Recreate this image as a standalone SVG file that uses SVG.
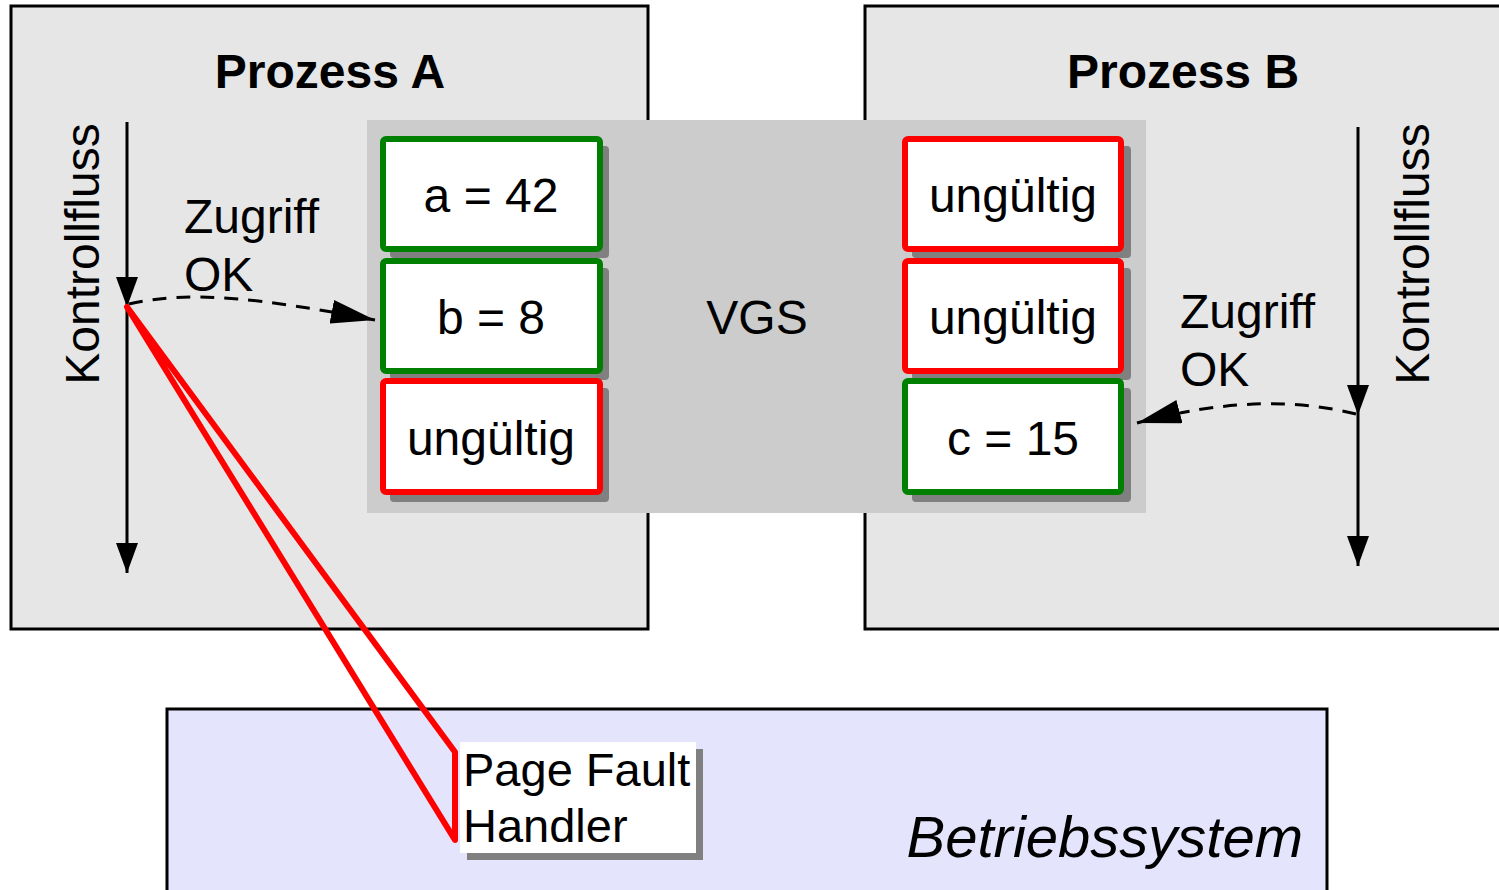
<svg xmlns="http://www.w3.org/2000/svg" width="1499" height="890" viewBox="0 0 1499 890">
<style>
.proc{fill:#e6e6e6;stroke:#000;stroke-width:3}
.vgs{fill:#cccccc}
.shadow{fill:#808080}
.cell{fill:#fff;stroke-width:6}
.ok{stroke:#008000}
.bad{stroke:#ff0000}
.t{font-family:"Liberation Sans",Arial,sans-serif;fill:#000}
.title{font-size:48px;font-weight:bold;text-anchor:middle}
.val{font-size:48px;text-anchor:middle}
.lbl{font-size:48px}
.flow{stroke:#000;stroke-width:3;fill:none}
.dash{stroke:#000;stroke-width:3;fill:none;stroke-dasharray:14 10}
</style>
<defs>
<marker id="ah" viewBox="0 0 30 22" refX="30" refY="11" markerWidth="30" markerHeight="22" markerUnits="userSpaceOnUse" orient="auto">
<path d="M0,0 L30,11 L0,22 Z" fill="#000"/>
</marker>
<marker id="ahb" viewBox="0 0 44 24" refX="44" refY="12" markerWidth="44" markerHeight="24" markerUnits="userSpaceOnUse" orient="auto">
<path d="M0,0 L44,12 L0,24 Z" fill="#000"/>
</marker>
</defs>
<rect width="1499" height="890" fill="#fff"/>

<g id="os">
<rect x="167" y="709" width="1160" height="190" fill="#e4e4fc" stroke="#000" stroke-width="3"/>
<text class="t" x="1303" y="857" font-size="58" font-style="italic" text-anchor="end">Betriebssystem</text>
</g>

<g id="prozessA">
<rect class="proc" x="11" y="6" width="637" height="623"/>
<text class="t title" x="330" y="88">Prozess A</text>
<text class="t lbl" transform="translate(99,254) rotate(-90)" text-anchor="middle">Kontrollfluss</text>
<text class="t lbl" x="184" y="233">Zugriff</text>
<text class="t lbl" x="184" y="291">OK</text>
</g>

<g id="prozessB">
<rect class="proc" x="865" y="6" width="640" height="623"/>
<text class="t title" x="1183" y="88">Prozess B</text>
<text class="t lbl" transform="translate(1429,254) rotate(-90)" text-anchor="middle">Kontrollfluss</text>
<text class="t lbl" x="1180" y="328">Zugriff</text>
<text class="t lbl" x="1180" y="386">OK</text>
</g>

<g id="vgs">
<rect class="vgs" x="367" y="120" width="779" height="393"/>
<text class="t val" x="757" y="334">VGS</text>
</g>

<g id="cellA1">
<rect class="shadow" x="390" y="146" width="219" height="112" rx="4"/>
<rect class="cell ok" x="383" y="139" width="217" height="110" rx="3"/>
<text class="t val" x="491" y="212">a = 42</text>
</g>
<g id="cellA2">
<rect class="shadow" x="390" y="268" width="219" height="112" rx="4"/>
<rect class="cell ok" x="383" y="261" width="217" height="110" rx="3"/>
<text class="t val" x="491" y="334">b = 8</text>
</g>
<g id="cellA3">
<rect class="shadow" x="390" y="388" width="219" height="114" rx="4"/>
<rect class="cell bad" x="383" y="381" width="217" height="111" rx="3"/>
<text class="t val" x="491" y="455">ungültig</text>
</g>

<g id="cellB1">
<rect class="shadow" x="912" y="146" width="219" height="112" rx="4"/>
<rect class="cell bad" x="905" y="139" width="216" height="110" rx="3"/>
<text class="t val" x="1013" y="212">ungültig</text>
</g>
<g id="cellB2">
<rect class="shadow" x="912" y="268" width="219" height="112" rx="4"/>
<rect class="cell bad" x="905" y="261" width="216" height="110" rx="3"/>
<text class="t val" x="1013" y="334">ungültig</text>
</g>
<g id="cellB3">
<rect class="shadow" x="912" y="388" width="219" height="114" rx="4"/>
<rect class="cell ok" x="905" y="381" width="216" height="111" rx="3"/>
<text class="t val" x="1013" y="455">c = 15</text>
</g>

<g id="handler">
<rect class="shadow" x="467" y="749" width="236" height="111"/>
<rect x="460" y="742" width="236" height="111" fill="#fff"/>
<text class="t" x="463" y="786" font-size="47">Page Fault</text>
<text class="t" x="463" y="842" font-size="47">Handler</text>
</g>

<g id="connectors">
<line class="flow" x1="127" y1="122" x2="127" y2="307" marker-end="url(#ah)"/>
<line class="flow" x1="127" y1="307" x2="127" y2="573" marker-end="url(#ah)"/>
<line class="flow" x1="1358" y1="127" x2="1358" y2="415" marker-end="url(#ah)"/>
<line class="flow" x1="1358" y1="415" x2="1358" y2="566" marker-end="url(#ah)"/>
<path class="dash" d="M129,304 C190,290 260,298 375,320" marker-end="url(#ahb)"/>
<path class="dash" d="M1356,414 C1300,400 1230,398 1137,423" marker-end="url(#ahb)"/>
<path d="M127,307 L455,752 L455,840 Z" fill="none" stroke="#ff0000" stroke-width="6" stroke-linejoin="round"/>
</g>
</svg>
